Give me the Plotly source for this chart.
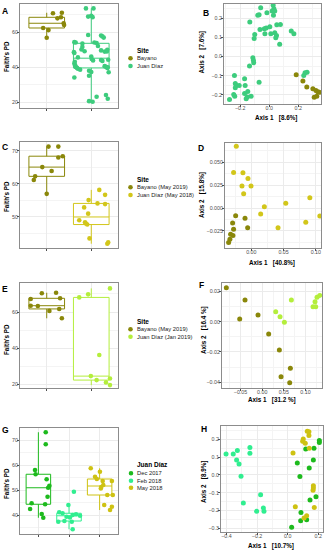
import plotly.graph_objects as go

W, HGT = 326, 550
FONT = "Liberation Sans, Arial, sans-serif"

# ---------------- DATA ----------------
# Panel A: Faith's PD by site
A_bayano_pd = [71.0, 70.7, 68.4, 67.8, 65.0, 64.0, 62.3, 61.1, 56.7]
A_bayano_jit = [0.34, 0.14, 0.32, 0.24, 0.38, 0.39, -0.08, 0.04, 0.0]
A_juan_pd = [73.5, 73.5, 69.3, 68.8, 68.5, 58.3, 58.0, 57.5, 56.8, 54.2,
             54.0, 53.4, 54.0, 53.7, 52.0, 51.5, 50.0, 49.0, 48.5, 48.0,
             49.5, 48.8, 49.8, 48.9, 44.0, 43.5, 44.2, 46.0, 44.6, 43.8,
             45.5, 43.0, 42.0, 41.0, 40.5, 40.2, 39.5, 39.8, 40.0, 39.5,
             39.0, 38.5, 37.9, 37.2, 37.0, 35.0, 34.0, 24.0, 23.0, 21.9,
             20.5, 20.2]
A_juan_jit = [-0.12, 0.05, 0.0, -0.07, 0.03, -0.07, 0.22, 0.25, 0.28, -0.38,
              -0.35, -0.20, 0.07, 0.12, 0.15, -0.20, -0.22, -0.15, -0.39, -0.38,
              0.22, 0.30, 0.36, 0.35, 0.22, 0.25, 0.38, 0.0, 0.01, 0.04,
              -0.30, -0.37, -0.38, -0.36, 0.30, 0.33, 0.36, 0.37, -0.35, -0.32,
              -0.30, -0.25, -0.05, 0.0, 0.39, -0.05, -0.38, 0.33, 0.12, 0.37,
              -0.05, 0.03]

# Panel B: PCoA
B_bayano_x = [0.186, 0.232, 0.259, 0.301, 0.322, 0.335, 0.345, 0.310, 0.328]
B_bayano_y = [-0.095, -0.127, -0.158, -0.168, -0.177, -0.183, -0.186, -0.212, -0.207]
B_juan_x = [-0.059, 0.027, 0.032, 0.020, 0.038, -0.016, -0.070, -0.079, 0.029, -0.134,
            -0.100, -0.104, -0.064, -0.034, -0.021, 0.004, -0.030, 0.011, 0.038, 0.050,
            0.045, 0.072, 0.052, 0.077, 0.152, 0.170, -0.113, -0.109, -0.107, -0.136,
            -0.070, -0.240, -0.170, -0.234, -0.227, -0.207, -0.166, -0.234, -0.148, -0.170,
            -0.245, -0.238, -0.125, -0.152, -0.159, -0.274, 0.261, 0.247, 0.238]
B_juan_y = [0.253, 0.266, 0.248, 0.236, 0.236, 0.227, 0.217, 0.214, 0.214, 0.179,
            0.115, 0.094, 0.141, 0.144, 0.148, 0.155, 0.118, 0.118, 0.123, 0.109,
            0.097, 0.064, 0.165, 0.167, 0.132, 0.118, -0.007, -0.019, -0.033, -0.050,
            -0.134, -0.099, -0.116, -0.141, -0.151, -0.151, -0.151, -0.163, -0.182, -0.193,
            -0.198, -0.207, -0.207, -0.210, -0.220, -0.224, -0.082, -0.085, -0.099]

# Panel C
C_bayano_pd = [71.3, 71.3, 68.0, 68.4, 65.1, 63.9, 62.3, 61.2, 57.0]
C_bayano_jit = [0.04, 0.26, 0.26, 0.36, -0.10, 0.11, -0.26, -0.29, 0.0]
C_juan_pd = [58.2, 56.7, 55.1, 54.1, 53.9, 52.9, 51.0, 49.0, 48.4, 48.0, 47.7, 43.5, 42.3, 41.9]
C_juan_jit = [0.18, 0.31, -0.06, 0.14, 0.31, -0.16, -0.07, -0.27, -0.14, -0.12, -0.09, -0.04, 0.38, 0.36]

# Panel D
D_juan_x = [-0.0233, -0.0275, -0.0130, -0.0052, -0.0145, -0.0005, -0.0119,
            0.0202, 0.0145, 0.0534, 0.0907, 0.1062, 0.0844, 0.0414]
D_juan_y = [0.0673, 0.0387, 0.0384, 0.0322, 0.0239, 0.0239, 0.0156,
            0.0014, -0.0065, 0.0051, 0.0112, -0.0087, -0.0156, -0.0214]
D_bayano_x = [-0.0243, -0.0098, -0.0057, -0.0290, -0.0275, -0.0321, -0.0285, -0.0332, -0.0352]
D_bayano_y = [-0.0083, -0.0112, -0.0214, -0.0163, -0.0232, -0.0286, -0.0300, -0.0340, -0.0376]

# Panel E
E_bayano_pd = [70.4, 70.7, 67.2, 67.6, 63.5, 63.3, 60.6, 61.7, 56.5]
E_bayano_jit = [-0.11, 0.21, -0.36, 0.30, -0.36, -0.20, 0.06, 0.28, 0.34]
E_juan_pd = [73.1, 68.1, 69.8, 36.1, 24.4, 22.2, 23.1, 20.9, 19.4]
E_juan_jit = [0.42, -0.27, -0.07, 0.18, -0.01, 0.12, 0.42, 0.33, 0.42]

# Panel F
F_bayano_x = [-0.0827, -0.0396, -0.0519, -0.0096, 0.0150, 0.0396, 0.0650, 0.0435, 0.0635]
F_bayano_y = [0.0225, 0.0143, 0.0018, 0.0044, -0.0082, -0.0187, -0.0309, -0.0364, -0.0404]
F_juan_x = [0.0673, 0.0312, 0.0412, 0.0512, 0.1173, 0.1235, 0.1219, 0.1265, 0.1327]
F_juan_y = [0.0143, 0.0066, 0.0033, -0.0004, 0.0099, 0.0099, 0.0132, 0.0161, 0.0174]

# Panel G: Juan Diaz by date
G_dec_pd = [73.1, 68.3, 58.0, 56.3, 54.3, 51.7, 50.9, 47.3, 44.7, 44.3, 42.4, 40.4, 38.9]
G_dec_jit = [0.24, 0.24, -0.11, -0.09, 0.27, 0.36, 0.32, 0.30, -0.22, 0.22, -0.27, 0.11, 0.16]
G_feb_pd = [49.3, 44.0, 41.1, 40.7, 39.3, 39.0, 40.0, 40.3, 39.7, 37.3, 37.6, 37.3, 34.3]
G_feb_jit = [0.16, -0.02, -0.32, -0.21, -0.08, 0.03, 0.12, 0.23, 0.36, -0.35, -0.15, 0.09, 0.12]
G_may_pd = [58.7, 57.3, 55.3, 54.4, 53.6, 53.6, 52.0, 51.2, 50.6, 48.0, 48.0, 44.0, 43.3, 42.0]
G_may_jit = [-0.29, 0.01, -0.15, -0.09, 0.10, 0.40, 0.12, 0.05, 0.04, 0.25, 0.43, 0.15, 0.40, 0.34]

# Panel H
H_feb_x = [-0.403, -0.356, -0.329, -0.247, -0.247, -0.334, -0.318, -0.305, -0.177, -0.290, -0.159, -0.155, -0.203]
H_feb_y = [0.118, 0.118, 0.137, 0.155, 0.122, 0.084, 0.062, -0.007, -0.111, -0.157, -0.185, -0.204, -0.204]
H_dec_x = [0.118, 0.172, 0.207, 0.207, 0.168, 0.063, 0.141, 0.080, 0.185, 0.146, 0.087, 0.124, 0.085, 0.026]
H_dec_y = [0.146, 0.150, 0.193, 0.182, 0.084, 0.067, 0.039, -0.009, -0.122, -0.140, -0.210, -0.251, -0.257, -0.294]
H_may_x = [0.128, 0.139, 0.139, 0.102, 0.098, 0.141, 0.115, 0.035, 0.168, 0.168, 0.166, 0.174, 0.050, 0.124, 0.107]
H_may_y = [0.245, 0.243, 0.221, 0.202, 0.189, 0.150, 0.178, 0.124, -0.060, -0.073, -0.085, -0.182, -0.178, -0.229, -0.242]

# ---------------- STYLE ----------------
OLIVE = "#8A870A"
GREEN_A = "#3DCC7D"
YELLOW = "#D2C61A"
LIME = "#B4EE3C"
DEC = "#1DBA1D"
FEB = "#30EE90"
MAY = "#CEC212"


def fx(p):
    return p / W


def fy(p):
    return 1 - p / HGT


fig = go.Figure()

# panel geometry (pixels) and ranges
panels = [
    dict(xd=(20, 118), yd=(4, 108), xr=[0.4, 2.6], yr=[16.6, 76], box=2, ydt=20),
    dict(xd=(224, 321), yd=(4, 104), xr=[-0.312, 0.357], yr=[-0.247, 0.273], xdt=0.2, ydt=0.1, xf=".1f", yf=".1f"),
    dict(xd=(20, 118), yd=(142, 248), xr=[0.4, 2.6], yr=[40.6, 72.7], box=2, ydt=10),
    dict(xd=(225, 321), yd=(143, 248), xr=[-0.0408, 0.108], yr=[-0.0435, 0.0707], xdt=0.05, ydt=0.025, xf=".2f", yf=".3f"),
    dict(xd=(20, 118), yd=(283, 388), xr=[0.4, 2.6], yr=[17.8, 76.1], box=2, ydt=20),
    dict(xd=(222, 322), yd=(283, 388), xr=[-0.0927, 0.138], yr=[-0.0439, 0.0256], xdt=0.05, ydt=0.02, xf=".2f", yf=".2f"),
    dict(xd=(20, 118), yd=(428, 534), xr=[0.4, 3.6], yr=[32.4, 74.8], box=3, ydt=10),
    dict(xd=(221, 323), yd=(426, 532), xr=[-0.436, 0.231], yr=[-0.32, 0.275], xdt=0.2, ydt=0.1, xf=".1f", yf=".1f"),
]

tickfont = dict(size=5.3, color="#4d4d4d", family=FONT)
layout_axes = {}
for i, p in enumerate(panels, start=1):
    sfx = "" if i == 1 else str(i)
    common = dict(showline=True, mirror=True, linecolor="#8c8c8c", linewidth=1,
                  showgrid=True, gridcolor="#EBEBEB", gridwidth=0.6, zeroline=False,
                  ticks="outside", ticklen=2, tickwidth=0.6, tickcolor="#4d4d4d",
                  tickfont=tickfont, fixedrange=True)
    xa = dict(common, domain=[fx(p["xd"][0]), fx(p["xd"][1])], range=p["xr"], anchor="y" + sfx,
              ticklabelstandoff=-3)
    ya = dict(common, domain=[fy(p["yd"][1]), fy(p["yd"][0])], range=p["yr"], anchor="x" + sfx,
              ticklabelstandoff=-2)
    if "box" in p:
        xa.update(tickmode="array", tickvals=list(range(1, p["box"] + 1)), showticklabels=False)
        ya.update(dtick=p["ydt"], tick0=0,
                  minor=dict(showgrid=True, gridcolor="#F4F4F4", gridwidth=0.4, dtick=p["ydt"] / 2, tick0=0))
    else:
        xa.update(dtick=p["xdt"], tick0=0, tickformat=p["xf"],
                  minor=dict(showgrid=True, gridcolor="#F4F4F4", gridwidth=0.4, dtick=p["xdt"] / 2, tick0=0))
        ya.update(dtick=p["ydt"], tick0=0, tickformat=p["yf"],
                  minor=dict(showgrid=True, gridcolor="#F4F4F4", gridwidth=0.4, dtick=p["ydt"] / 2, tick0=0))
    layout_axes["xaxis" + sfx] = xa
    layout_axes["yaxis" + sfx] = ya


def refs(i):
    s = "" if i == 1 else str(i)
    return "x" + s, "y" + s


def add_box(i, pos, vals, color):
    xr, yr = refs(i)
    fig.add_trace(go.Box(
        x=[pos] * len(vals), y=vals, width=0.8, xaxis=xr, yaxis=yr,
        line=dict(color=color, width=1), fillcolor="white",
        boxpoints="outliers", marker=dict(opacity=0, size=1), whiskerwidth=0,
        quartilemethod="inclusive", showlegend=False, hoverinfo="skip"))


def add_jitter(i, pos, vals, jit, color, size=4.6):
    xr, yr = refs(i)
    fig.add_trace(go.Scatter(
        x=[pos + j for j in jit], y=vals, mode="markers", xaxis=xr, yaxis=yr,
        marker=dict(color=color, size=size, line=dict(width=0)),
        showlegend=False, hoverinfo="skip"))


def add_pts(i, xs, ys, color, size=5):
    xr, yr = refs(i)
    fig.add_trace(go.Scatter(
        x=xs, y=ys, mode="markers", xaxis=xr, yaxis=yr,
        marker=dict(color=color, size=size, line=dict(width=0)),
        showlegend=False, hoverinfo="skip"))


# boxes first (drawn underneath)
add_box(1, 1, A_bayano_pd, OLIVE)
add_box(1, 2, A_juan_pd, GREEN_A)
add_box(3, 1, C_bayano_pd, OLIVE)
add_box(3, 2, C_juan_pd, YELLOW)
add_box(5, 1, E_bayano_pd, OLIVE)
add_box(5, 2, E_juan_pd, LIME)
add_box(7, 1, G_dec_pd, DEC)
add_box(7, 2, G_feb_pd, FEB)
add_box(7, 3, G_may_pd, MAY)

add_jitter(1, 1, A_bayano_pd, A_bayano_jit, OLIVE)
add_jitter(1, 2, A_juan_pd, A_juan_jit, GREEN_A)
add_jitter(3, 1, C_bayano_pd, C_bayano_jit, OLIVE)
add_jitter(3, 2, C_juan_pd, C_juan_jit, YELLOW)
add_jitter(5, 1, E_bayano_pd, E_bayano_jit, OLIVE)
add_jitter(5, 2, E_juan_pd, E_juan_jit, LIME)
add_jitter(7, 1, G_dec_pd, G_dec_jit, DEC)
add_jitter(7, 2, G_feb_pd, G_feb_jit, FEB)
add_jitter(7, 3, G_may_pd, G_may_jit, MAY)

add_pts(2, B_juan_x, B_juan_y, GREEN_A)
add_pts(2, B_bayano_x, B_bayano_y, OLIVE)
add_pts(4, D_juan_x, D_juan_y, YELLOW)
add_pts(4, D_bayano_x, D_bayano_y, OLIVE)
add_pts(6, F_bayano_x, F_bayano_y, OLIVE)
add_pts(6, F_juan_x, F_juan_y, LIME)
add_pts(8, H_feb_x, H_feb_y, FEB)
add_pts(8, H_dec_x, H_dec_y, DEC)
add_pts(8, H_may_x, H_may_y, MAY)

# ---------------- TEXT ----------------
annotations = []
shapes = []


def txt(x, y, t, size=6, bold=False, angle=0, xanchor="center", color="#1a1a1a"):
    annotations.append(dict(
        x=fx(x), y=fy(y), xref="paper", yref="paper", text=("<b>%s</b>" % t) if bold else t,
        showarrow=False, xanchor=xanchor, yanchor="middle", textangle=angle,
        font=dict(family=FONT, size=size, color=color)))


# panel letters
for lab, (x, y) in {"A": (5, 11), "B": (206, 13), "C": (5, 147), "D": (201, 148),
                    "E": (5, 289), "F": (201, 285), "G": (5, 430), "H": (204, 429)}.items():
    txt(x, y, lab, size=8.5, bold=True, color="black")

# y titles (box panels)
for y in (57, 197, 340, 484):
    txt(6, y, "Faith's PD", size=6.3, bold=True, angle=-90, color="black")

NB = "\u00a0"
# PCoA axis titles
for (x1, y1, t1), (x2, y2, t2) in [
    ((275.5, 117.5, "Axis 1" + NB * 3 + "[8.6%]"), (201.5, 53, "Axis 2" + NB * 3 + "[7.6%]")),
    ((272, 262.5, "Axis 1" + NB * 3 + "[40.8%]"), (202, 195, "Axis 2" + NB * 3 + "[15.8%]")),
    ((271.5, 400, "Axis 1" + NB * 3 + "[31.2 %]"), (204, 330, "Axis 2" + NB * 3 + "[16.4 %]")),
    ((270.5, 545.5, "Axis 1" + NB * 3 + "[10.7%]"), (204, 482, "Axis 2" + NB * 3 + "[8.9%]")),
]:
    txt(x1, y1, t1, size=6.3, bold=True, color="black")
    txt(x2, y2, t2, size=6.3, bold=True, angle=-90, color="black")


def legend(title, ty, items, mx=130.5, tx=135):
    txt(tx, ty, title, size=6.5, bold=True, xanchor="left", color="black")
    for label, y, color in items:
        shapes.append(dict(type="circle", xref="paper", yref="paper",
                           xsizemode="pixel", ysizemode="pixel",
                           xanchor=fx(mx), yanchor=fy(y), x0=-2.3, x1=2.3, y0=-2.3, y1=2.3,
                           fillcolor=color, line=dict(width=0)))
        txt(tx, y, label, size=5.8, xanchor="left", color="#222222")


legend("Site", 50, [("Bayano", 58.3, OLIVE), ("Juan Díaz", 66, GREEN_A)])
legend("Site", 179.3, [("Bayano (May 2019)", 187.3, OLIVE), ("Juan Díaz (May 2018)", 195, YELLOW)])
legend("Site", 321.7, [("Bayano (May 2019)", 329.3, OLIVE), ("Juan Díaz (Jan 2019)", 336.7, LIME)])
legend("Juan Díaz", 464.3, [("Dec 2017", 473.3, DEC), ("Feb 2018", 480.7, FEB), ("May 2018", 487.7, MAY)], mx=131)

fig.update_layout(
    width=W, height=HGT, margin=dict(l=0, r=0, t=0, b=0),
    paper_bgcolor="white", plot_bgcolor="white",
    boxmode="overlay", showlegend=False,
    font=dict(family=FONT),
    annotations=annotations, shapes=shapes,
    **layout_axes,
)

fig.write_html("out.html", config={"displayModeBar": False},
               post_script="document.body.style.margin='0px';document.body.style.overflow='hidden';")
